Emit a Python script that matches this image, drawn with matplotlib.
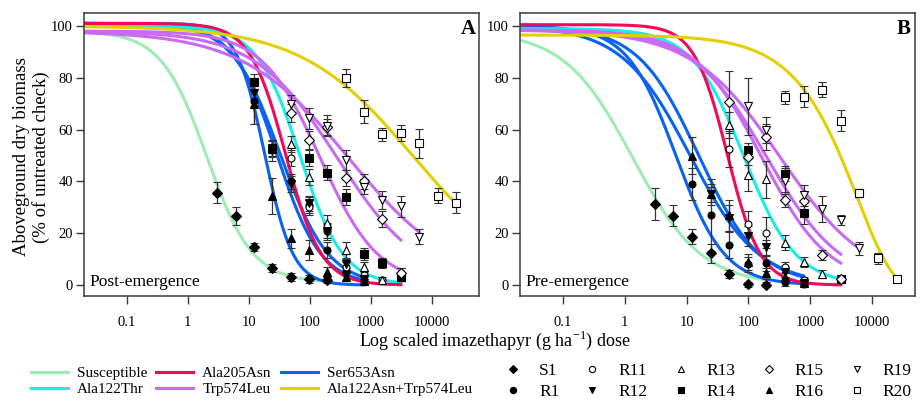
import numpy as np
import matplotlib
matplotlib.use('Agg')
import matplotlib.pyplot as plt
from matplotlib.lines import Line2D
from matplotlib.ticker import FixedLocator, NullLocator

plt.rcParams['font.family'] = ['Liberation Serif', 'DejaVu Serif']
plt.rcParams['mathtext.fontset'] = 'custom'
plt.rcParams['mathtext.rm'] = 'Liberation Serif'

# observed points: (dose g/ha, % of check, error)
post_S1 = [(3.06, 35.6, 4), (6.125, 26.6, 3.5), (12.25, 14.8, 1.5), (24.5, 6.6, 1.5), (49, 3, 1.5), (98, 2.5, 1.5), (196, 2, 1)]
post_R1 = [(12.25, 71, 9), (24.5, 52, 4), (49, 40, 3), (98, 31, 3), (196, 13.5, 3), (392, 5, 1.5), (784, 2, 1)]
post_R11 = [(49, 49, 3), (98, 30, 3), (196, 21, 3), (392, 7, 2), (784, 4, 1.5), (1568, 2, 1), (3136, 4.5, 2)]
post_R12 = [(12.25, 74, 5), (24.5, 53, 3), (49, 39, 3), (98, 31.5, 3), (196, 20.5, 3), (392, 8, 2), (784, 2.5, 1)]
post_R13 = [(49, 54.4, 3), (98, 41.8, 3), (196, 24, 3), (392, 13.5, 3), (784, 7, 2), (1568, 2, 1), (3136, 3, 1.5)]
post_R14 = [(12.25, 78.5, 3), (24.5, 52.5, 3), (98, 49, 3), (196, 43.4, 3), (392, 34, 3), (784, 12, 2.5), (1568, 8.5, 2), (3136, 3, 1.5)]
post_R15 = [(49, 66.3, 3.5), (98, 56, 3.5), (196, 61, 3), (392, 41.3, 3), (784, 40, 3), (1568, 25.5, 3), (3136, 4.5, 2)]
post_R16 = [(12.25, 70, 8), (24.5, 34.4, 7), (49, 18, 3.5), (98, 13.5, 4), (196, 5, 2), (392, 3, 1.5), (784, 1.5, 1)]
post_R19 = [(49, 70, 3.5), (98, 64.3, 4), (196, 61.5, 4), (392, 48.3, 4), (784, 38, 3), (1568, 32.8, 3.5), (3136, 30.4, 4), (6272, 18.7, 3)]
post_R20 = [(392, 79.8, 3.5), (784, 66.9, 4.5), (1568, 58.3, 2.5), (3136, 58.7, 3), (6272, 54.7, 5.5), (12544, 34.5, 3), (25088, 31.8, 4)]

pre_S1 = [(3.06, 31.3, 6), (6.125, 26.8, 4), (12.25, 18.7, 3), (24.5, 12.2, 3.5), (49, 4.2, 1.5), (98, 0.3, 1), (196, 0.2, 1)]
pre_R1 = [(12.25, 39, 6), (24.5, 27, 14), (49, 15.4, 5), (98, 8, 3), (196, 8.4, 3), (392, 1.3, 1.5), (784, 0.5, 1)]
pre_R11 = [(49, 52.5, 7), (98, 23.6, 5), (196, 20.2, 6), (392, 7, 2), (784, 2, 1), (3136, 2.2, 1)]
pre_R12 = [(24.5, 35, 4), (49, 26, 5), (98, 19, 4), (196, 14.6, 3), (392, 5, 2), (784, 0.8, 1)]
pre_R13 = [(49, 61.8, 5), (98, 42.5, 6), (196, 40.8, 7), (392, 16.4, 3), (784, 9, 2), (1568, 4.2, 1.5), (3136, 2.4, 1)]
pre_R14 = [(98, 52, 3), (392, 43, 3), (784, 28, 4.5), (3136, 2.5, 1)]
pre_R15 = [(49, 70.8, 12), (98, 49.5, 3), (196, 57, 5), (392, 33, 3), (784, 32.3, 4), (1568, 11.6, 2), (3136, 2.5, 1)]
pre_R16 = [(12.25, 50, 7), (24.5, 35, 3), (49, 27, 6), (98, 9, 3), (196, 4.5, 2), (392, 3, 1.5), (784, 1, 1)]
pre_R19 = [(98, 69, 11), (196, 60, 5), (392, 40, 5), (784, 34.7, 4), (1568, 29.2, 5), (3136, 25.2, 2), (6272, 14.2, 2.5)]
pre_R20 = [(392, 72.5, 2.5), (784, 72.7, 4), (1568, 75.4, 3), (3136, 63.5, 4), (6272, 35.6, 1.5), (12544, 10.3, 2), (25088, 2.2, 1)]

# fitted curves: (group, model, b, c, d, e, last dose)
post_fits = [
    ('Susceptible', 'LL', 1.16, 1, 98, 2.07, 196),
    ('Ser653Asn', 'LL', 1.87, 0, 101, 18.4, 784),
    ('Ser653Asn', 'LL', 1.2, 0, 101, 29, 784),
    ('Ser653Asn', 'LL', 1.1, 0, 101, 33, 784),
    ('Ala122Thr', 'LL', 1.23, 0, 100, 69.6, 3136),
    ('Ala205Asn', 'LL', 1.48, 0, 101, 40.4, 3136),
    ('Trp574Leu', 'LL', 0.91, 0, 98, 150, 3136),
    ('Trp574Leu', 'LL', 0.64, 0, 98, 286, 3136),
    ('Trp574Leu', 'LL', 0.5, 0, 98, 438, 6272),
    ('Ala122Asn+Trp574Leu', 'LL', 0.475, 0, 100, 4880, 25088),
]
pre_fits = [
    ('Susceptible', 'LL', 0.78, 0, 98, 1.35, 196),
    ('Ser653Asn', 'LL', 1.1, 0, 100, 6.7, 784),
    ('Ser653Asn', 'LL', 0.78, 0, 100, 11.4, 784),
    ('Ser653Asn', 'LL', 0.88, 0, 100, 15.7, 784),
    ('Ala122Thr', 'LL', 1.03, 0, 99, 85, 3136),
    ('Ala205Asn', 'LL', 1.62, 0, 100.5, 45.8, 3136),
    ('Trp574Leu', 'LL', 0.8, 0, 98.5, 165, 3136),
    ('Trp574Leu', 'LL', 0.72, 0, 98.5, 200, 3136),
    ('Trp574Leu', 'LL', 0.608, 0, 98.5, 330, 6272),
    ('Ala122Asn+Trp574Leu', 'W1', 0.72, -3, 96.5, 5840, 25088),
]

groups = ['Susceptible', 'Ala122Thr', 'Ala205Asn', 'Trp574Leu', 'Ser653Asn', 'Ala122Asn+Trp574Leu']
colors = {'Susceptible': '#9CECB4', 'Ala122Thr': '#18ECEC', 'Ala205Asn': '#F5085A',
          'Trp574Leu': '#C96AF2', 'Ser653Asn': '#0A62F2', 'Ala122Asn+Trp574Leu': '#E2D000'}

pops = ['S1', 'R1', 'R11', 'R12', 'R13', 'R14', 'R15', 'R16', 'R19', 'R20']
marks = {'S1': ('D', 'k'), 'R1': ('o', 'k'), 'R11': ('o', 'w'), 'R12': ('v', 'k'), 'R13': ('^', 'w'),
         'R14': ('s', 'k'), 'R15': ('D', 'w'), 'R16': ('^', 'k'), 'R19': ('v', 'w'), 'R20': ('s', 'w')}

post_data = [post_S1, post_R1, post_R11, post_R12, post_R13, post_R14, post_R15, post_R16, post_R19, post_R20]
pre_data = [pre_S1, pre_R1, pre_R11, pre_R12, pre_R13, pre_R14, pre_R15, pre_R16, pre_R19, pre_R20]

SPINE = '#3a3a3a'


def model(x, kind, b, c, d, e):
    if kind == 'W1':
        return c + (d - c) * np.exp(-np.exp(b * (np.log(x) - np.log(e))))
    return c + (d - c) / (1 + np.exp(b * (np.log(x) - np.log(e))))


def draw_panel(ax, fits, data, xmax, label, letter):
    for g, kind, b, c, d, e, xend in fits:
        x = np.logspace(np.log10(0.02), np.log10(xend), 300)
        ax.plot(x, model(x, kind, b, c, d, e), color=colors[g], lw=2.2, zorder=2)
    for name, pts in zip(pops, data):
        m, fc = marks[name]
        dose = [p[0] for p in pts]
        val = [p[1] for p in pts]
        err = [p[2] for p in pts]
        ms = 5.5 if m == 'D' else (5 if m == 'o' else 5.5)
        ax.errorbar(dose, val, yerr=err, fmt=m, ms=ms, mfc=fc, mec='k', mew=0.8,
                    ecolor='#333333', elinewidth=0.9, capsize=3.2, capthick=0.9, zorder=3)
    ax.set_xscale('log')
    ax.set_xlim(0.02, xmax)
    ax.set_ylim(-4.2, 105)
    ax.xaxis.set_major_locator(FixedLocator([0.1, 1, 10, 100, 1000, 10000]))
    ax.xaxis.set_minor_locator(NullLocator())
    ax.set_xticklabels(['0.1', '1', '10', '100', '1000', '10000'])
    ax.set_yticks([0, 20, 40, 60, 80, 100])
    ax.tick_params(axis='both', direction='out', length=5.5, width=1, color=SPINE, labelsize=10.5)
    ax.tick_params(axis='x', pad=9)
    ax.tick_params(axis='y', pad=2.5)
    for s in ax.spines.values():
        s.set_color(SPINE)
        s.set_linewidth(1.1)
    ax.text(0.015, 0.051, label, transform=ax.transAxes, fontsize=12.5, ha='left', va='center')
    ax.text(0.972, 0.945, letter, transform=ax.transAxes, fontsize=15, fontweight='bold',
            ha='center', va='center')


fig = plt.figure(figsize=(9.21, 4.01), dpi=100)
axA = fig.add_axes([84 / 921, 105 / 401, 395 / 921, 283 / 401])
axB = fig.add_axes([520 / 921, 105 / 401, 395 / 921, 283 / 401])
draw_panel(axA, post_fits, post_data, 60000, 'Post-emergence', 'A')
draw_panel(axB, pre_fits, pre_data, 50000, 'Pre-emergence', 'B')

fig.text(31.5 / 921, 1 - 157 / 401, 'Aboveground dry biomass\n(% of untreated check)', rotation=90,
         fontsize=13.5, ha='center', va='center', multialignment='center', linespacing=1.2)
fig.text(495 / 921, 1 - 340 / 401, r'Log scaled imazethapyr (g ha$^{\mathregular{-1}}$) dose',
         fontsize=13, ha='center', va='center')

line_handles = [Line2D([], [], color=colors[g], lw=2.2) for g in groups]
fig.legend(line_handles, groups, loc='center', bbox_to_anchor=(252 / 921, 1 - 381.5 / 401),
           ncol=3, frameon=False, fontsize=11, handlelength=2.4, handletextpad=0.6,
           columnspacing=0.6, labelspacing=0.15, borderpad=0, borderaxespad=0)

mark_handles = [Line2D([], [], marker=marks[p][0], ls='none', mfc=marks[p][1], mec='k', mew=0.8, ms=4.5)
                for p in pops]
fig.legend(mark_handles, pops, loc='center', bbox_to_anchor=(708 / 921, 1 - 381.5 / 401),
           ncol=5, frameon=False, fontsize=12.5, handlelength=1.0, handletextpad=1.0,
           columnspacing=1.4, labelspacing=0.25, borderpad=0, borderaxespad=0)

fig.savefig('out.png', dpi=100)
